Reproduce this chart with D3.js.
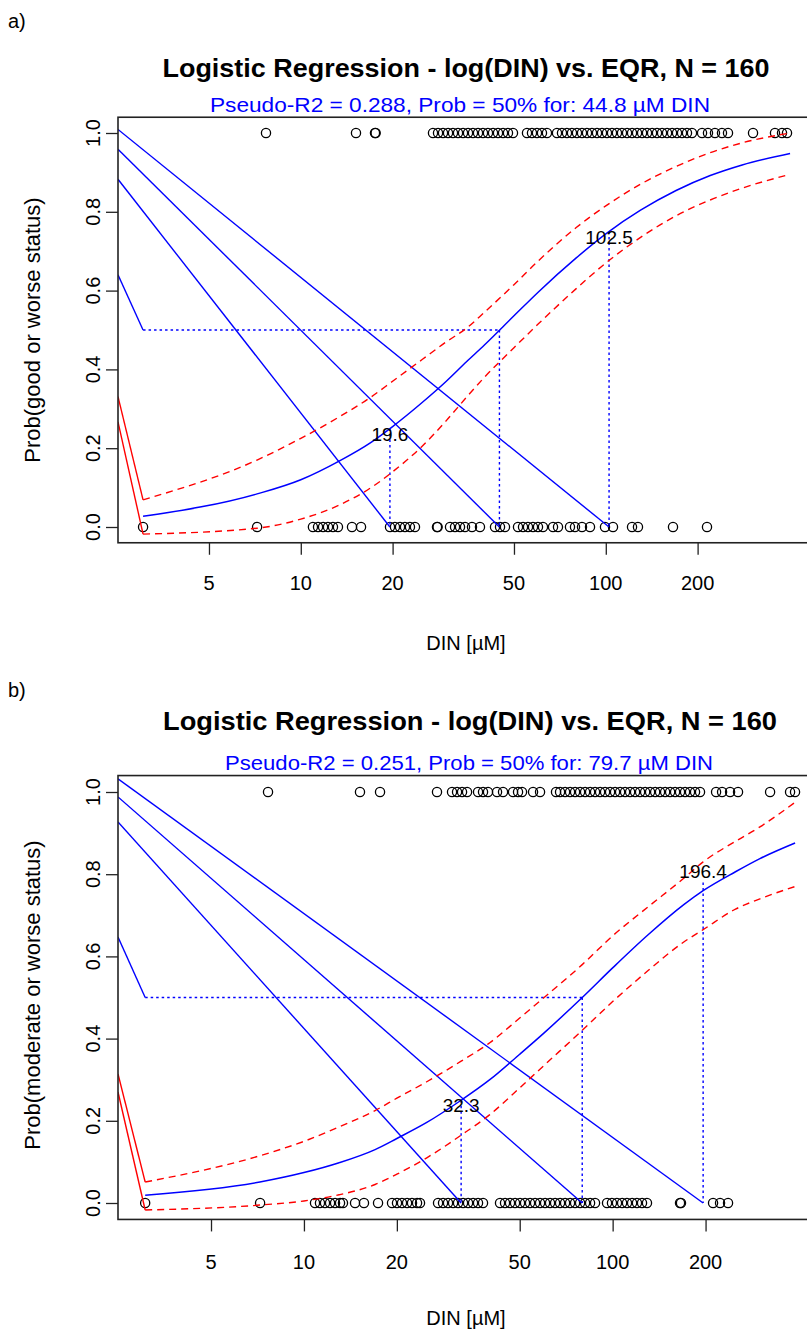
<!DOCTYPE html>
<html><head><meta charset="utf-8">
<script src="https://cdn.jsdelivr.net/npm/d3@7"></script>
<style>
body{margin:0;background:#fff}
svg{display:block}
text{font-family:"Liberation Sans",Arial,sans-serif}
</style>
</head><body>
<svg id="chart" width="807" height="1329"></svg>
<script>
// ---------------- DATA ----------------
const xTickValues = [5, 10, 20, 50, 100, 200];
const yTickValues = [0, 0.2, 0.4, 0.6, 0.8, 1.0];
const yTickLabels = ["0.0", "0.2", "0.4", "0.6", "0.8", "1.0"];

// Panel a) observations (DIN, µM) with outcome 0 and 1
const aZeroX = [3.04, 7.19, 10.96, 11.39, 11.83, 12.28, 12.75, 13.24, 14.72, 15.76, 19.61, 20.36, 21.15, 21.96, 22.80, 23.68, 27.96, 28.1, 30.85, 32.04, 33.27, 34.55, 36.42, 38.68, 43.33, 45.00, 46.72, 51.54, 53.53, 55.58, 57.72, 59.94, 62.24, 67.14, 69.72, 76.30, 79.25, 83.56, 88.77, 99.40, 105.6, 121.9, 127.5, 166.1, 214.7];
const aOneX = [7.69, 15.17, 17.51, 17.6, 27.13, 28.18, 29.26, 30.39, 31.55, 32.77, 34.03, 35.34, 36.69, 38.11, 39.57, 41.09, 42.68, 44.32, 46.03, 47.79, 49.63, 55.16, 57.28, 59.48, 61.77, 64.14, 69.18, 71.84, 74.60, 77.47, 80.45, 83.56, 86.77, 90.11, 93.58, 97.18, 100.9, 104.8, 108.8, 113.0, 117.4, 121.9, 126.6, 131.5, 136.5, 141.8, 147.2, 152.9, 158.8, 164.9, 171.2, 177.8, 184.6, 191.7, 206.8, 216.3, 228.0, 240.4, 251.6, 303.9, 358.7, 378.2, 392.8];
// Panel a) fitted curve and confidence band
const aCurveX = [3.04, 7.19, 10, 13.4, 17, 20, 25, 30, 35, 40, 50, 60, 80, 100, 130, 170, 220, 280, 402];
const aFit    = [0.027, 0.084, 0.12, 0.168, 0.215, 0.255, 0.316, 0.37, 0.42, 0.462, 0.536, 0.596, 0.683, 0.744, 0.804, 0.854, 0.892, 0.919, 0.948];
const aUpper  = [0.069, 0.17, 0.225, 0.28, 0.33, 0.37, 0.425, 0.47, 0.505, 0.545, 0.615, 0.675, 0.76, 0.815, 0.87, 0.915, 0.95, 0.975, 1.0];
const aLower  = [-0.018, -0.003, 0.02, 0.056, 0.10, 0.14, 0.205, 0.27, 0.33, 0.38, 0.455, 0.515, 0.605, 0.67, 0.735, 0.79, 0.83, 0.86, 0.895];
// Panel a) cut points (25%, 50%, 75%), tops of the dotted drops, label positions
const aCutX = [19.6, 44.8, 102.5];
const aDropTop = [0.25, 0.5, 0.75];
const aLabelP = [0.25, 0.75];
const aBlueStart = [0.8825, 0.959, 1.009];   // lines ending at each cut point on y = 0
const aHalfStart = 0.640;                    // line ending at (first x, 0.5)
const aRedStart = [0.331, 0.267];            // lines ending at upper / lower band start

// Panel b)
const bZeroX = [3.06, 7.21, 10.86, 11.27, 11.70, 12.15, 12.61, 13.09, 13.38, 14.64, 15.65, 17.38, 19.29, 20.02, 20.78, 21.58, 22.39, 23.25, 23.77, 27.19, 28.22, 29.29, 30.41, 31.56, 32.76, 34.01, 35.30, 36.64, 38.03, 43.17, 44.81, 46.51, 48.28, 50.12, 52.02, 54.00, 56.06, 58.19, 60.40, 62.69, 65.08, 67.55, 70.12, 72.78, 75.55, 78.43, 81.41, 84.51, 87.70, 95.9, 99.5, 103.3, 107.3, 111.3, 115.6, 119.9, 124.5, 129.2, 165.3, 166.5, 211.5, 222.8, 236.5];
const bOneX = [7.65, 15.19, 17.64, 26.98, 30.18, 31.33, 32.52, 33.76, 36.64, 38.03, 39.47, 42.22, 44.15, 47.57, 49.38, 50.87, 55.23, 58.19, 65.55, 67.55, 70.12, 72.78, 75.55, 78.43, 81.41, 84.51, 87.70, 91.05, 94.5, 98.1, 101.8, 105.7, 109.7, 113.9, 118.2, 122.7, 127.4, 132.2, 137.3, 142.4, 147.9, 153.5, 159.3, 165.3, 171.6, 178.1, 184.9, 191.9, 216.3, 226.2, 240.1, 254.8, 323.6, 375.6, 389.8];
const bCurveX = [3.06, 7.2, 10, 13, 17, 20, 25, 32.3, 40, 50, 60, 79.7, 100, 130, 170, 196.4, 250, 300, 390];
const bFit    = [0.019, 0.051, 0.074, 0.098, 0.13, 0.157, 0.196, 0.25, 0.30, 0.362, 0.414, 0.50, 0.572, 0.652, 0.726, 0.76, 0.806, 0.838, 0.876];
const bUpper  = [0.051, 0.115, 0.15, 0.185, 0.225, 0.255, 0.295, 0.345, 0.39, 0.45, 0.50, 0.58, 0.65, 0.72, 0.79, 0.83, 0.88, 0.915, 0.975];
const bLower  = [-0.017, -0.005, 0.005, 0.02, 0.045, 0.07, 0.11, 0.165, 0.215, 0.28, 0.335, 0.42, 0.49, 0.565, 0.635, 0.665, 0.715, 0.74, 0.77];
const bCutX = [32.3, 79.7, 196.4];
const bDropTop = [0.25, 0.5, 0.78];
const bLabelP = [0.25, 0.82];
const bBlueStart = [0.927, 0.988, 1.032];
const bHalfStart = 0.647;
const bRedStart = [0.314, 0.27];

const panels = [
  {letter: "a)", title: "Logistic Regression - log(DIN) vs. EQR, N = 160",
   sub: "Pseudo-R2 = 0.288, Prob = 50% for: 44.8 µM DIN", ylab: "Prob(good or worse status)",
   zeroX: aZeroX, oneX: aOneX, curveX: aCurveX, fit: aFit, upper: aUpper, lower: aLower,
   cutX: aCutX, dropTop: aDropTop, labelP: aLabelP, blueStart: aBlueStart, halfStart: aHalfStart, redStart: aRedStart,
   xDom: [2.516, 485.2], yRange: [542.76, 117.24],
   letterY: 28, titleY: 77, titleW: 607, titleX: 466, subY: 112, subW: 500, subX: 460,
   tickLabY: 590, xlabY: 650, ylabY: 330},
  {letter: "b)", title: "Logistic Regression - log(DIN) vs. EQR, N = 160",
   sub: "Pseudo-R2 = 0.251, Prob = 50% for: 79.7 µM DIN", ylab: "Prob(moderate or worse status)",
   zeroX: bZeroX, oneX: bOneX, curveX: bCurveX, fit: bFit, upper: bUpper, lower: bLower,
   cutX: bCutX, dropTop: bDropTop, labelP: bLabelP, blueStart: bBlueStart, halfStart: bHalfStart, redStart: bRedStart,
   xDom: [2.4985, 452.4], yRange: [1219.44, 775.56],
   letterY: 697, titleY: 730, titleW: 614, titleX: 470, subY: 770, subW: 488, subX: 469,
   tickLabY: 1269, xlabY: 1325, ylabY: 995}
];

// ---------------- DRAW ----------------
const svg = d3.select("#chart");
const BLUE = "#0000ff", RED = "#ff0000";

panels.forEach((p, i) => {
  const g = svg.append("g");
  const x = d3.scaleLog().domain(p.xDom).range([118, 815]);
  const y = d3.scaleLinear().domain([-0.04, 1.04]).range(p.yRange);
  const top = p.yRange[1], bottom = p.yRange[0];

  const clipId = "clip" + i;
  svg.append("clipPath").attr("id", clipId).append("rect")
    .attr("x", 118).attr("y", top).attr("width", 807 - 118).attr("height", bottom - top);
  const plot = g.append("g").attr("clip-path", `url(#${clipId})`);

  // points
  const pts = p.zeroX.map(v => [v, 0]).concat(p.oneX.map(v => [v, 1]));
  plot.selectAll("circle.pt").data(pts).join("circle")
    .attr("cx", d => x(d[0])).attr("cy", d => y(d[1])).attr("r", 4.6)
    .attr("fill", "none").attr("stroke", "#000").attr("stroke-width", 1.3);

  const line = d3.line().x(d => x(d[0])).y(d => y(d[1]));
  const xMin = p.xDom[0];
  const x0 = p.curveX[0];

  // guide lines from left edge
  p.cutX.forEach((cx, k) => {
    plot.append("path").attr("d", line([[xMin, p.blueStart[k]], [cx, 0]]))
      .attr("fill", "none").attr("stroke", BLUE).attr("stroke-width", 1.4);
  });
  plot.append("path").attr("d", line([[xMin, p.halfStart], [x0, 0.5]]))
    .attr("fill", "none").attr("stroke", BLUE).attr("stroke-width", 1.4);
  plot.append("path").attr("d", line([[xMin, p.redStart[0]], [x0, p.upper[0]]]))
    .attr("fill", "none").attr("stroke", RED).attr("stroke-width", 1.4);
  plot.append("path").attr("d", line([[xMin, p.redStart[1]], [x0, p.lower[0]]]))
    .attr("fill", "none").attr("stroke", RED).attr("stroke-width", 1.4);

  // dotted guides
  const dot = "2.5,3";
  plot.append("path").attr("d", line([[x0, 0.5], [p.cutX[1], 0.5]]))
    .attr("fill", "none").attr("stroke", BLUE).attr("stroke-width", 1.4).attr("stroke-dasharray", dot);
  p.cutX.forEach((cx, k) => {
    plot.append("path").attr("d", line([[cx, p.dropTop[k]], [cx, 0]]))
      .attr("fill", "none").attr("stroke", BLUE).attr("stroke-width", 1.4).attr("stroke-dasharray", dot);
  });

  // fitted curve and band
  const fitPts = p.curveX.map((v, k) => [v, p.fit[k]]);
  const upPts = p.curveX.map((v, k) => [v, p.upper[k]]);
  const loPts = p.curveX.map((v, k) => [v, p.lower[k]]);
  const smooth = d3.line().x(d => x(d[0])).y(d => y(d[1])).curve(d3.curveMonotoneX);
  plot.append("path").attr("d", smooth(upPts)).attr("fill", "none").attr("stroke", RED)
    .attr("stroke-width", 1.4).attr("stroke-dasharray", "7,5");
  plot.append("path").attr("d", smooth(loPts)).attr("fill", "none").attr("stroke", RED)
    .attr("stroke-width", 1.4).attr("stroke-dasharray", "7,5");
  plot.append("path").attr("d", smooth(fitPts)).attr("fill", "none").attr("stroke", BLUE)
    .attr("stroke-width", 1.5);

  // cut labels (25% and 75%)
  [0, 2].forEach((k, j) => {
    g.append("text").attr("x", x(p.cutX[k])).attr("y", y(p.labelP[j]) + 12)
      .attr("text-anchor", "middle").attr("font-size", 19).attr("fill", "#000")
      .text(p.cutX[k].toFixed(1));
  });

  // box
  g.append("rect").attr("x", 118).attr("y", top).attr("width", 815 - 118).attr("height", bottom - top)
    .attr("fill", "none").attr("stroke", "#222").attr("stroke-width", 1.6);

  // axes
  const xAxis = d3.axisBottom(x).tickValues(xTickValues).tickSize(12).tickFormat("");
  const xg = g.append("g").attr("transform", `translate(0,${bottom})`).call(xAxis);
  xg.select(".domain").remove();
  xg.selectAll("line").attr("stroke", "#222").attr("stroke-width", 1.3);
  xTickValues.forEach(v => {
    g.append("text").attr("x", x(v)).attr("y", p.tickLabY).attr("text-anchor", "middle")
      .attr("font-size", 20).text(String(v));
  });

  const yAxis = d3.axisLeft(y).tickValues(yTickValues).tickSize(12).tickFormat("");
  const yg = g.append("g").attr("transform", `translate(118,0)`).call(yAxis);
  yg.select(".domain").remove();
  yg.selectAll("line").attr("stroke", "#222").attr("stroke-width", 1.3);
  yTickValues.forEach((v, k) => {
    g.append("text").attr("transform", `translate(100,${y(v)}) rotate(-90)`)
      .attr("text-anchor", "middle").attr("font-size", 20).text(yTickLabels[k]);
  });

  // titles & labels
  g.append("text").attr("x", 8).attr("y", p.letterY).attr("font-size", 20).text(p.letter);
  g.append("text").attr("x", p.titleX).attr("y", p.titleY).attr("text-anchor", "middle")
    .attr("font-size", 25).attr("font-weight", "bold")
    .attr("textLength", p.titleW).attr("lengthAdjust", "spacingAndGlyphs").text(p.title);
  g.append("text").attr("x", p.subX).attr("y", p.subY).attr("text-anchor", "middle")
    .attr("font-size", 21).attr("fill", BLUE)
    .attr("textLength", p.subW).attr("lengthAdjust", "spacingAndGlyphs").text(p.sub);
  g.append("text").attr("x", 466).attr("y", p.xlabY).attr("text-anchor", "middle")
    .attr("font-size", 20).text("DIN [µM]");
  g.append("text").attr("transform", `translate(40,${p.ylabY}) rotate(-90)`)
    .attr("text-anchor", "middle").attr("font-size", 22).text(p.ylab);
});
</script>
</body></html>
